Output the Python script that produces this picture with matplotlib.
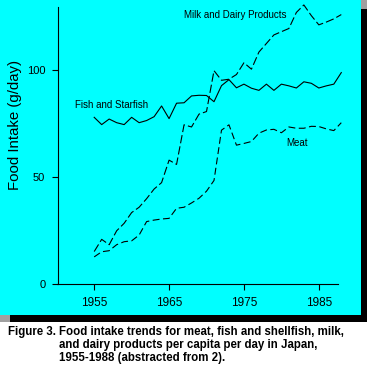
import matplotlib
matplotlib.use("Agg")
import matplotlib.pyplot as plt
from matplotlib.patches import Rectangle

years = list(range(1955, 1989))
fish = [78.0, 74.6, 77.2, 75.5, 74.6, 78.0, 75.5, 76.5, 78.3, 83.3, 77.4, 84.6, 84.8,
        88.0, 88.3, 88.2, 85.3, 92.8, 95.6, 91.8, 93.5, 91.6, 90.6, 93.5, 90.6, 93.5,
        92.7, 91.7, 94.6, 93.9, 91.7, 92.7, 93.5, 98.9]
milk = [15.3, 21.0, 18.5, 25.0, 28.5, 33.5, 36.0, 40.0, 44.5, 47.5, 58.0, 56.0, 74.5,
        73.5, 79.5, 80.7, 99.8, 95.3, 95.8, 98.0, 103.5, 100.5, 108.5, 112.5, 116.5,
        118.0, 119.5, 127.0, 130.5, 125.5, 121.2, 122.5, 124.0, 126.0]
meat = [12.8, 15.2, 15.7, 18.5, 19.9, 20.3, 23.0, 29.3, 30.0, 30.5, 30.8, 35.5, 36.0,
        38.0, 40.2, 43.5, 48.5, 72.0, 74.5, 65.0, 65.8, 66.7, 70.6, 72.1, 72.4, 70.8,
        73.5, 72.9, 72.9, 73.8, 73.7, 72.6, 71.8, 75.5]
xticks = [1955, 1965, 1975, 1985]
yticks = [0, 50, 100]
ylabel = "Food Intake (g/day)"
caption_head = "Figure 3."
caption_lines = ["Food intake trends for meat, fish and shellfish, milk,",
                 "and dairy products per capita per day in Japan,",
                 "1955-1988 (abstracted from 2)."]

W, H = 367, 373
plt.rcParams['lines.scale_dashes'] = False
fig = plt.figure(figsize=(W / 100, H / 100), dpi=100, facecolor='white')

def px_rect(x0, y0, x1, y1, color):
    fig.add_artist(Rectangle((x0 / W, 1 - y1 / H), (x1 - x0) / W, (y1 - y0) / H,
                             transform=fig.transFigure, facecolor=color,
                             edgecolor='none', zorder=0))

px_rect(0, 0, 361, 314.7, '#00FFFF')
px_rect(361, 9, 367, 322, 'black')
px_rect(10, 314.7, 367, 322, 'black')
px_rect(361, 0, 367, 9, '#A0A0A0')
px_rect(0, 314.7, 10, 322, '#A0A0A0')

ax = fig.add_axes([57.5 / W, 1 - 284.3 / H, (338.3 - 57.5) / W, (284.3 - 7.3) / H])
ax.set_facecolor('none')
ax.set_xlim(1950.1, 1987.6)
ax.set_ylim(0, 129.4)
for s in ['top', 'right']:
    ax.spines[s].set_visible(False)
for s in ['left', 'bottom']:
    ax.spines[s].set_linewidth(0.8)

ax.plot(years, fish, color='black', lw=0.8, clip_on=False)
ax.plot(years, milk, color='black', lw=0.8, dashes=(6, 2.2), clip_on=False)
ax.plot(years, meat, color='black', lw=0.8, dashes=(5, 2.5), clip_on=False)

ax.set_xticks(xticks)
ax.set_xticklabels([str(v) for v in xticks], family='Liberation Sans', fontsize=8.5)
ax.set_yticks(yticks)
ax.set_yticklabels([str(v) for v in yticks], family='Liberation Sans', fontsize=8)
ax.tick_params(axis='x', length=4, width=0.8, pad=5.5)
ax.tick_params(axis='y', length=4.3, width=0.8, pad=4.5)

fig.text(15 / W, 1 - 125 / H, ylabel, rotation=90, ha='center', va='center',
         family='Liberation Sans', fontsize=10.8)

ax.text(1967.0, 125.8, "Milk and Dairy Products", family='Liberation Sans', fontsize=7,
        ha='left', va='center')
ax.text(1952.5, 83.6, "Fish and Starfish", family='Liberation Sans', fontsize=7,
        ha='left', va='center')
ax.text(1980.7, 65.9, "Meat", family='Liberation Sans', fontsize=7,
        ha='left', va='center')

fig.text(8 / W, 1 - 335 / H, caption_head, family='Liberation Sans', weight='bold',
         fontsize=8.3, ha='left', va='baseline')
for i, line in enumerate(caption_lines):
    fig.text(59 / W, 1 - (335 + 12.8 * i) / H, line, family='Liberation Sans',
             weight='bold', fontsize=8.3, ha='left', va='baseline')

fig.savefig('out.png', dpi=100, facecolor='white')
